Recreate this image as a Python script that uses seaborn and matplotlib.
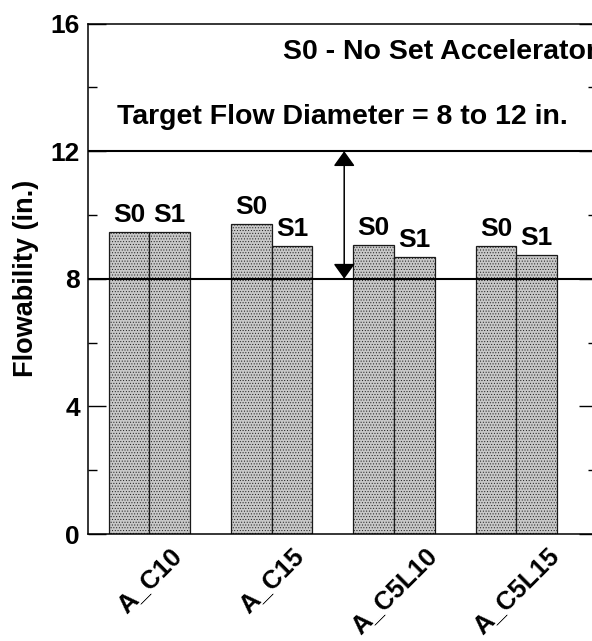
import matplotlib
matplotlib.use("Agg")
import matplotlib.pyplot as plt
import seaborn as sns
import pandas as pd
from matplotlib.ticker import MultipleLocator

# ---- data ----
mixes = ["A_C10", "A_C15", "A_C5L10", "A_C5L15"]
series = ["S0", "S1"]
s0_values = [9.48, 9.73, 9.07, 9.03]
s1_values = [9.48, 9.03, 8.68, 8.74]
target_low = 8
target_high = 12
y_ticks = [0, 4, 8, 12, 16]

df = pd.DataFrame({
    "mix": mixes * 2,
    "series": ["S0"] * len(mixes) + ["S1"] * len(mixes),
    "flow": s0_values + s1_values,
})

sns.set_theme(style="white")
plt.rcParams["font.family"] = ["Liberation Sans", "DejaVu Sans"]
plt.rcParams["text.color"] = "black"
plt.rcParams["axes.labelcolor"] = "black"
plt.rcParams["xtick.color"] = "black"
plt.rcParams["ytick.color"] = "black"
plt.rcParams["hatch.color"] = "#9a9a9a"
plt.rcParams["hatch.linewidth"] = 0.4

fig = plt.figure(figsize=(5.92, 6.41), dpi=100)
ax = fig.add_axes([0.149, 0.1669, 0.8595, 0.7964])

sns.barplot(data=df, x="mix", y="flow", hue="series", hue_order=series,
            order=mixes, width=2/3, gap=0, palette=["#c8c8c8", "#c8c8c8"],
            edgecolor="#1a1a1a", linewidth=0.9, legend=False, ax=ax)

for bar in ax.patches:
    bar.set_hatch("......")

for cont, lab in zip(ax.containers, series):
    ax.bar_label(cont, labels=[lab] * len(cont), padding=3.5,
                 fontsize=19, fontweight="bold", color="black")

ax.set_xlim(-0.5, 3.66)
ax.set_ylim(0, 16)
ax.yaxis.set_minor_locator(MultipleLocator(2))
ax.set_yticks(y_ticks)
ax.set_yticklabels([str(t) for t in y_ticks], fontsize=19, fontweight="bold")
ax.tick_params(axis="y", which="major", direction="in", length=13, width=1,
               left=True, right=True, pad=6, color="black", labelcolor="black")
ax.tick_params(axis="y", which="minor", direction="in", length=6.5, width=1,
               left=True, right=True, color="black")
ax.tick_params(axis="x", length=0, pad=7, labelcolor="black")
for lbl in ax.get_xticklabels():
    lbl.set_rotation(45)
    lbl.set_fontsize(18.5)
    lbl.set_fontweight("bold")
    lbl.set_ha("center")

ax.set_xlabel("")
ax.set_ylabel("Flowability (in.)", fontsize=19.5, fontweight="bold",
              labelpad=8, color="black")

for s in ax.spines.values():
    s.set_color("black")
    s.set_linewidth(1.1)

ax.axhline(target_low, color="black", lw=1.5, zorder=3)
ax.axhline(target_high, color="black", lw=1.5, zorder=3)

ARROW_X = 1.593
ax.annotate("", xy=(ARROW_X, target_low), xytext=(ARROW_X, target_high),
            arrowprops=dict(arrowstyle="<|-|>,head_length=0.42,head_width=0.3",
                            color="black", lw=1.1,
                            mutation_scale=22, shrinkA=0, shrinkB=0))

ax.text(1.094, 14.9, "S0 - No Set Accelerator", fontsize=20.5,
        fontweight="bold", va="baseline", ha="left", color="black")
ax.text(-0.264, 12.85, "Target Flow Diameter = 8 to 12 in.", fontsize=20.5,
        fontweight="bold", va="baseline", ha="left", color="black")

fig.savefig("out.png", dpi=100)
